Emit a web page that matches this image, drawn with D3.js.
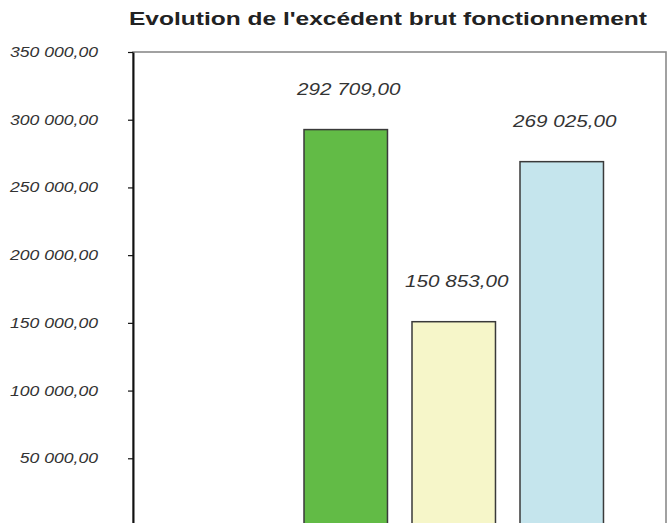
<!DOCTYPE html>
<html>
<head>
<meta charset="utf-8">
<script src="https://cdn.jsdelivr.net/npm/d3@7"></script>
<style>
  html, body { margin: 0; padding: 0; background: #fff; overflow: hidden; }
  text { font-family: "Liberation Sans", Arial, sans-serif; }
</style>
</head>
<body>
<div id="chart"></div>
<script>
// données
var categories = ["Exercice 1", "Exercice 2", "Exercice 3"];
var values = [292709, 150853, 269025];
var barColors = ["#62bb46", "#f6f6c9", "#c5e5ed"];
var yTicks = [50000, 100000, 150000, 200000, 250000, 300000, 350000];
var title = "Evolution de l'excédent brut fonctionnement";

var width = 669, height = 523;
var margin = { left: 133, top: 52 };
var innerWidth = 533, innerHeight = 474;

var fr = d3.formatLocale({ decimal: ",", thousands: " ", grouping: [3], currency: ["", " €"] });
var fmt = fr.format(",.2f");

var svg = d3.select("#chart")
    .append("svg")
    .attr("width", width)
    .attr("height", height);

svg.append("rect")
    .attr("width", width)
    .attr("height", height)
    .attr("fill", "#fff");

// titre
svg.append("text")
    .attr("x", 388)
    .attr("y", 25)
    .attr("text-anchor", "middle")
    .attr("font-size", 18)
    .attr("font-weight", "bold")
    .attr("fill", "#222")
    .attr("textLength", 518)
    .attr("lengthAdjust", "spacingAndGlyphs")
    .text(title);

var g = svg.append("g")
    .attr("transform", translate(margin.left, margin.top));

var y = d3.scaleLinear()
    .domain([0, 350000])
    .range([innerHeight, 0]);

var x = d3.scaleBand()
    .domain(categories)
    .range([171, 171 + 108 * (3 - 0.227)])
    .paddingInner(0.227)
    .paddingOuter(0);

// cadre
g.append("rect")
    .attr("x", 0)
    .attr("y", 0)
    .attr("width", innerWidth)
    .attr("height", innerHeight)
    .attr("fill", "none")
    .attr("stroke", "#8a8a8a")
    .attr("stroke-width", 1.6);

// barres
g.append("g")
    .selectAll("rect")
    .data(values)
    .enter()
    .append("rect")
    .attr("x", (d, i) => x(categories[i]))
    .attr("y", d => y(d))
    .attr("width", x.bandwidth())
    .attr("height", d => innerHeight - y(d))
    .attr("fill", (d, i) => barColors[i])
    .attr("stroke", "#3a3a3a")
    .attr("stroke-width", 1.5);

// étiquettes de valeur
g.append("g")
    .selectAll("text")
    .data(values)
    .enter()
    .append("text")
    .attr("x", (d, i) => x(categories[i]) + x.bandwidth() / 2 + 3)
    .attr("y", d => y(d) - 35)
    .attr("text-anchor", "middle")
    .attr("font-size", 16)
    .attr("font-style", "italic")
    .attr("fill", "#333")
    .text(d => fmt(d))
    .each(function () { stretch(this, 1.29); });

// axe Y
var yAxis = g.append("g")
    .call(d3.axisLeft(y)
        .tickValues(yTicks)
        .tickSize(5)
        .tickSizeOuter(0)
        .tickPadding(30)
        .tickFormat(fmt));
yAxis.select(".domain")
    .attr("stroke", "#111")
    .attr("stroke-width", 2);
yAxis.selectAll(".tick line")
    .attr("stroke", "#111")
    .attr("stroke-width", 1.2);
yAxis.selectAll(".tick text")
    .attr("font-size", 14)
    .attr("font-style", "italic")
    .attr("fill", "#333")
    .attr("font-family", "Liberation Sans, Arial, sans-serif")
    .each(function () { stretch(this, 1.257); });

// étire le texte horizontalement comme dans l'original
function stretch(node, k) {
    var len = node.getComputedTextLength();
    d3.select(node)
        .attr("textLength", len * k)
        .attr("lengthAdjust", "spacingAndGlyphs");
}

function translate(x, y) {
    return `translate(${x}, ${y})`;
}
</script>
</body>
</html>
